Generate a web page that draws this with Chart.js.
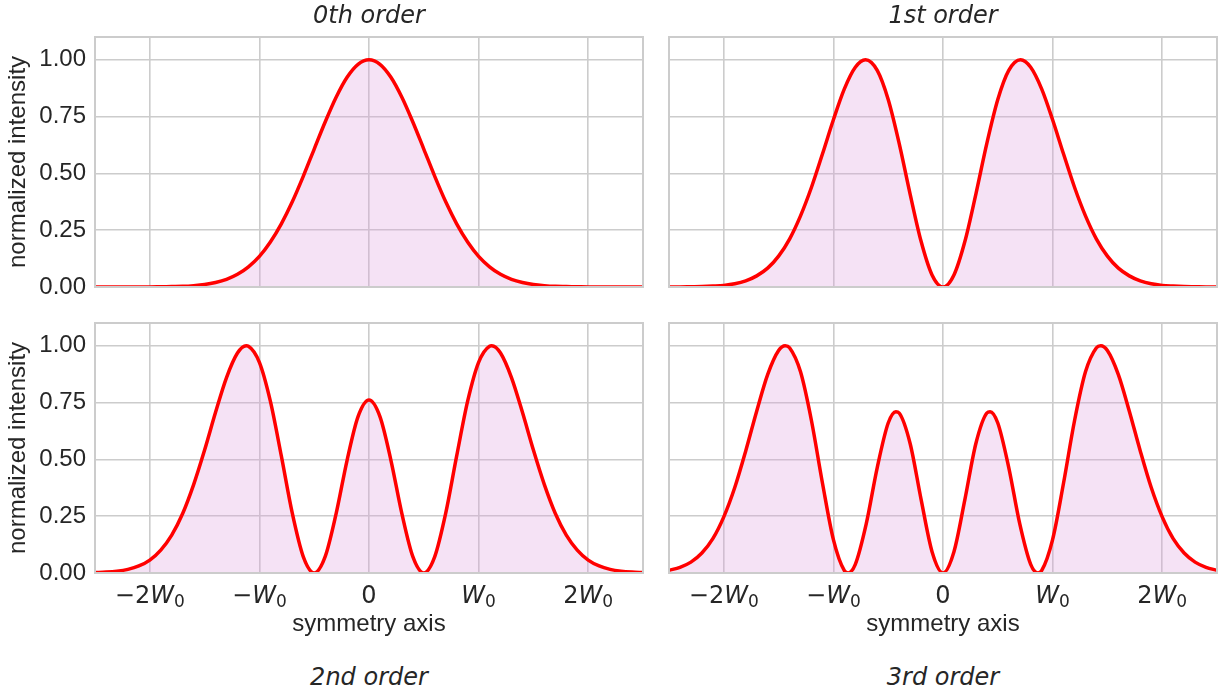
<!DOCTYPE html>
<html>
<head>
<meta charset="utf-8">
<script src="https://cdn.jsdelivr.net/npm/chart.js@4.4.1/dist/chart.umd.min.js"></script>
<style>
  body { margin: 0; background: #fff; width: 1224px; height: 695px; position: relative; overflow: hidden; }
  .panel { position: absolute; }
  .title { position: absolute; width: 548px; text-align: center; font: italic 24px/24px "DejaVu Sans"; color: #262626; }
</style>
</head>
<body>
<div class="panel" style="left:0;top:0;width:650px;height:320px"><canvas id="c0"></canvas></div>
<div class="panel" style="left:660px;top:0;width:564px;height:320px"><canvas id="c1"></canvas></div>
<div class="panel" style="left:0;top:290px;width:650px;height:360px"><canvas id="c2"></canvas></div>
<div class="panel" style="left:660px;top:290px;width:564px;height:360px"><canvas id="c3"></canvas></div>
<div class="title" id="t0" style="left:95px;top:3px"></div>
<div class="title" id="t1" style="left:669px;top:3px"></div>
<div class="title" id="t2" style="left:95px;top:665px"></div>
<div class="title" id="t3" style="left:669px;top:665px"></div>
<script>
const orderNames = ['0th order', '1st order', '2nd order', '3rd order'];
const xTickValues = [-2, -1, 0, 1, 2];
const xTickLabels = ['−2W₀', '−W₀', '0', 'W₀', '2W₀'];
const yTickValues = [0, 0.25, 0.5, 0.75, 1.0];
const yTickLabels = ['0.00', '0.25', '0.50', '0.75', '1.00'];

// 0th order
const x0 = [-2.5, -2.4, -2.3, -2.2, -2.1, -2.0, -1.9, -1.8, -1.7, -1.6, -1.5, -1.4, -1.3, -1.2, -1.1, -1.0, -0.9, -0.8, -0.7, -0.6, -0.5, -0.4, -0.3, -0.2, -0.1,
  0, 0.1, 0.2, 0.3, 0.4, 0.5, 0.6, 0.7, 0.8, 0.9, 1.0, 1.1, 1.2, 1.3, 1.4, 1.5, 1.6, 1.7, 1.8, 1.9, 2.0, 2.1, 2.2, 2.3, 2.4, 2.5];
const y0 = [0, 0, 0, 0, 0, 0, 0.001, 0.002, 0.003, 0.006, 0.011, 0.020, 0.034, 0.056, 0.089, 0.135, 0.198, 0.278, 0.375, 0.487, 0.607, 0.726, 0.835, 0.923, 0.980,
  1.000, 0.980, 0.923, 0.835, 0.726, 0.607, 0.487, 0.375, 0.278, 0.198, 0.135, 0.089, 0.056, 0.034, 0.020, 0.011, 0.006, 0.003, 0.002, 0.001, 0, 0, 0, 0, 0, 0];

// 1st order
const x1 = [-2.5, -2.4, -2.3, -2.2, -2.1, -2.0, -1.9, -1.8, -1.7, -1.6, -1.5, -1.4, -1.3, -1.2, -1.1, -1.0, -0.9, -0.8, -0.707, -0.6, -0.5, -0.4, -0.3, -0.2, -0.1,
  0, 0.1, 0.2, 0.3, 0.4, 0.5, 0.6, 0.707, 0.8, 0.9, 1.0, 1.1, 1.2, 1.3, 1.4, 1.5, 1.6, 1.7, 1.8, 1.9, 2.0, 2.1, 2.2, 2.3, 2.4, 2.5];
const y1 = [0, 0, 0.001, 0.002, 0.004, 0.007, 0.014, 0.027, 0.049, 0.083, 0.136, 0.211, 0.313, 0.439, 0.585, 0.736, 0.872, 0.967, 1.000, 0.953, 0.825, 0.632, 0.409, 0.201, 0.053,
  0, 0.053, 0.201, 0.409, 0.632, 0.825, 0.953, 1.000, 0.967, 0.872, 0.736, 0.585, 0.439, 0.313, 0.211, 0.136, 0.083, 0.049, 0.027, 0.014, 0.007, 0.004, 0.002, 0.001, 0, 0];

// 2nd order
const x2 = [-2.5, -2.4, -2.3, -2.2, -2.1, -2.0, -1.9, -1.8, -1.7, -1.6, -1.5, -1.4, -1.3, -1.2, -1.12, -1.1, -1.0, -0.9, -0.8, -0.7, -0.6, -0.5, -0.4, -0.3, -0.2, -0.1,
  0, 0.1, 0.2, 0.3, 0.4, 0.5, 0.6, 0.7, 0.8, 0.9, 1.0, 1.1, 1.12, 1.2, 1.3, 1.4, 1.5, 1.6, 1.7, 1.8, 1.9, 2.0, 2.1, 2.2, 2.3, 2.4, 2.5];
const y2 = [0.002, 0.004, 0.008, 0.016, 0.031, 0.057, 0.101, 0.167, 0.262, 0.389, 0.541, 0.707, 0.860, 0.968, 1.000, 0.998, 0.927, 0.756, 0.515, 0.263, 0.072, 0, 0.072, 0.261, 0.496, 0.688,
  0.761, 0.688, 0.496, 0.261, 0.072, 0, 0.072, 0.263, 0.515, 0.756, 0.927, 0.998, 1.000, 0.968, 0.860, 0.707, 0.541, 0.389, 0.262, 0.167, 0.101, 0.057, 0.031, 0.016, 0.008, 0.004, 0.002];

// 3rd order
const x3 = [-2.5, -2.4, -2.3, -2.2, -2.1, -2.0, -1.9, -1.8, -1.7, -1.6, -1.5, -1.44, -1.4, -1.3, -1.2, -1.1, -1.0, -0.9, -0.866, -0.8, -0.7, -0.6, -0.5, -0.43, -0.4, -0.3, -0.2, -0.1,
  0, 0.1, 0.2, 0.3, 0.4, 0.43, 0.5, 0.6, 0.7, 0.8, 0.866, 0.9, 1.0, 1.1, 1.2, 1.3, 1.4, 1.44, 1.5, 1.6, 1.7, 1.8, 1.9, 2.0, 2.1, 2.2, 2.3, 2.4, 2.5];
const y3 = [0.012, 0.025, 0.048, 0.088, 0.151, 0.247, 0.376, 0.537, 0.712, 0.873, 0.979, 1.000, 0.991, 0.885, 0.670, 0.396, 0.147, 0.010, 0, 0.038, 0.217, 0.464, 0.660, 0.710, 0.704, 0.570, 0.324, 0.094,
  0, 0.094, 0.324, 0.570, 0.704, 0.710, 0.660, 0.464, 0.217, 0.038, 0, 0.010, 0.147, 0.396, 0.670, 0.885, 0.991, 1.000, 0.979, 0.873, 0.712, 0.537, 0.376, 0.247, 0.151, 0.088, 0.048, 0.025, 0.012];

const TEXT = '#262626';
const GRID = '#cccccc';
const SANS = '"Liberation Sans", Arial, sans-serif';

// x tick labels like -2W0, drawn as mathtext (upright digits, italic W, subscript 0)
const mathTicks = {
  id: 'mathTicks',
  afterDraw(chart, args, opts) {
    if (!opts.show) return;
    const ctx = chart.ctx, sx = chart.scales.x;
    const base = chart.chartArea.bottom + 30;
    ctx.save();
    ctx.fillStyle = TEXT;
    ctx.textBaseline = 'alphabetic';
    ctx.textAlign = 'left';
    xTickValues.forEach((v, i) => {
      const label = xTickLabels[i];
      const k = label.indexOf('W');
      const parts = k < 0 ? [[label, '24px "DejaVu Sans"', 0]]
        : [[label.slice(0, k), '24px "DejaVu Sans"', 0], ['W', 'italic 24px "DejaVu Sans"', 0], ['0', '17px "DejaVu Sans"', 4]];
      let total = 0;
      parts.forEach(p => { ctx.font = p[1]; p.push(ctx.measureText(p[0]).width); total += p[3]; });
      let cx = sx.getPixelForValue(v) - total / 2;
      parts.forEach(p => { ctx.font = p[1]; ctx.fillText(p[0], cx, base + p[2]); cx += p[3]; });
    });
    ctx.restore();
  }
};

const frame = {
  id: 'frame',
  afterDatasetsDraw(chart) {
    const { left, top, right, bottom } = chart.chartArea;
    const ctx = chart.ctx;
    ctx.save();
    ctx.strokeStyle = GRID;
    ctx.lineWidth = 2;
    ctx.strokeRect(left, top, right - left, bottom - top);
    ctx.restore();
  }
};

function makeChart(id, xs, ys, showX, showY, isTop) {
  const ctx = document.getElementById(id).getContext('2d');
  return new Chart(ctx, {
    type: 'line',
    data: {
      datasets: [{
        data: xs.map((x, i) => ({ x: x, y: ys[i] })),
        borderColor: '#ff0000',
        borderWidth: 3.5,
        backgroundColor: 'rgba(221,160,221,0.3)',
        fill: 'origin',
        pointRadius: 0,
        cubicInterpolationMode: 'monotone',
        clip: 0
      }]
    },
    options: {
      responsive: true,
      maintainAspectRatio: false,
      animation: false,
      layout: { padding: { left: showY ? 0 : 9, right: 7, top: isTop ? 37 : 33, bottom: 0 } },
      plugins: { legend: { display: false }, tooltip: { enabled: false }, mathTicks: { show: showX } },
      scales: {
        x: {
          type: 'linear', min: -2.5, max: 2.5,
          afterBuildTicks: s => { s.ticks = xTickValues.map(v => ({ value: v })); },
          ticks: { display: false },
          grid: { color: GRID, lineWidth: 1.6, drawTicks: false },
          border: { display: false },
          title: { display: showX, text: 'symmetry axis', color: TEXT, font: { family: SANS, size: 24 }, padding: { top: 0, bottom: 11 } },
          afterFit: s => { s.height = showX ? 77 : 33; }
        },
        y: {
          type: 'linear', min: 0, max: 1.1,
          afterBuildTicks: s => { s.ticks = yTickValues.map(v => ({ value: v })); },
          ticks: { display: showY, padding: 9, color: TEXT, font: { family: SANS, size: 24 }, callback: (v, i) => yTickLabels[i] },
          grid: { color: GRID, lineWidth: 1.6, drawTicks: false },
          border: { display: false },
          title: { display: showY, text: 'normalized intensity', color: TEXT, font: { family: SANS, size: 24 }, padding: { top: 4, bottom: 0 } },
          afterFit: s => { s.width = showY ? 95 : 0; }
        }
      }
    },
    plugins: [mathTicks, frame]
  });
}

orderNames.forEach((n, i) => { document.getElementById('t' + i).textContent = n; });

makeChart('c0', x0, y0, false, true, true);
makeChart('c1', x1, y1, false, false, true);
makeChart('c2', x2, y2, true, true, false);
makeChart('c3', x3, y3, true, false, false);
</script>
</body>
</html>
